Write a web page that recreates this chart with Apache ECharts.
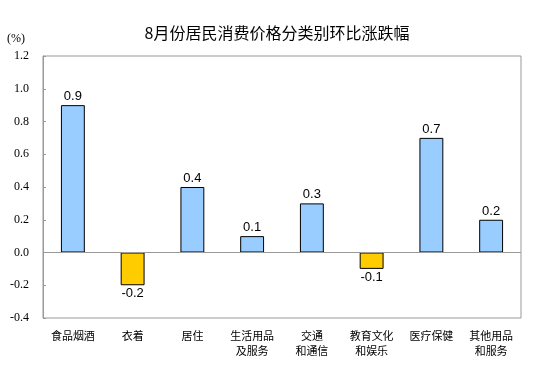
<!DOCTYPE html>
<html><head><meta charset="utf-8">
<script src="https://cdn.jsdelivr.net/npm/echarts@6/dist/echarts.min.js"></script>
<style>html,body{margin:0;padding:0;background:#fff}#c{width:554px;height:384px}</style>
</head><body><div id="c"></div>
<script>
const categories = ['食品烟酒','衣着','居住','生活用品\n及服务','交通\n和通信','教育文化\n和娱乐','医疗保健','其他用品\n和服务'];
const values = [0.9,-0.2,0.4,0.1,0.3,-0.1,0.7,0.2];
const title = '8月份居民消费价格分类别环比涨跌幅';
const unit = '(%)';

const chart = echarts.init(document.getElementById('c'));
chart.setOption({
  animation:false,
  backgroundColor:'#fff',
  title:{text:title,left:'center',top:20,textStyle:{fontFamily:'Noto Sans CJK SC',fontSize:16,fontWeight:'normal',color:'#000'}},
  graphic:[{type:'text',left:7,top:33,style:{text:unit,font:'12px "Liberation Serif"',fill:'#000'}}],
  grid:{left:43,right:33,top:56,bottom:66,show:true,borderColor:'#999',borderWidth:1,backgroundColor:'transparent'},
  xAxis:{type:'category',data:categories,
    axisLine:{show:false},axisTick:{show:false},
    axisLabel:{interval:0,fontFamily:'Noto Sans CJK SC',fontSize:11,color:'#000',margin:10,lineHeight:15}},
  yAxis:{type:'value',min:-0.4,max:1.2,interval:0.2,
    axisLine:{show:true,lineStyle:{color:'#999'}},axisTick:{show:true,inside:true,length:3,lineStyle:{color:'#999'}},splitLine:{show:false},
    axisLabel:{fontFamily:'Liberation Serif',fontSize:12,color:'#000',margin:14,formatter:v=>v.toFixed(1)}},
  series:[{type:'bar',barWidth:'40%',
    data:values.map(v=>({value:v,itemStyle:{color:v<0?'#FFCC00':'#99CCFF'},label:{position:v<0?'bottom':'top'}})),
    itemStyle:{borderColor:'#000',borderWidth:1},
    label:{show:true,fontFamily:'Liberation Sans',fontSize:13,color:'#000',distance:2,formatter:p=>p.value.toFixed(1)},
    markLine:{silent:true,symbol:'none',label:{show:false},lineStyle:{color:'#999',type:'solid',width:1},data:[{yAxis:0}]}
  }]
});
</script></body></html>
